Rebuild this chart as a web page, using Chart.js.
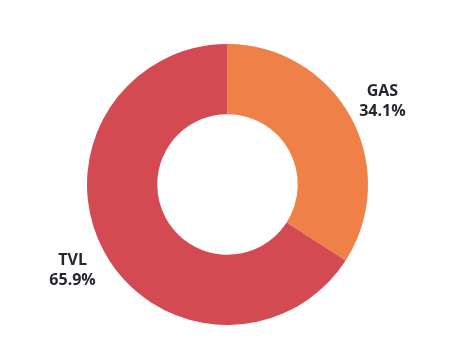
<!DOCTYPE html>
<html>
<head>
<meta charset="utf-8">
<script src="https://cdn.jsdelivr.net/npm/chart.js@4"></script>
<style>
  html, body { margin: 0; padding: 0; background: #fff; }
  #wrap { width: 472px; height: 351px; }
</style>
</head>
<body>
<div id="wrap"><canvas id="myChart" width="472" height="351"></canvas></div>
<script>
// データ
const labels = ['GAS', 'TVL'];
const values = [34.1, 65.9];
const colors = ['#EF8148', '#D34A52'];

// ラベルを外側に描く
const outsideLabels = {
    id: 'outsideLabels',
    afterDatasetsDraw(chart) {
        const ctx = chart.ctx;
        const meta = chart.getDatasetMeta(0);
        ctx.save();
        ctx.fillStyle = '#262633';
        ctx.font = 'bold 16px "Open Sans", sans-serif';
        ctx.textAlign = 'center';
        ctx.textBaseline = 'middle';
        meta.data.forEach((arc, i) => {
            const p = arc.getProps(['x', 'y', 'startAngle', 'endAngle', 'outerRadius']);
            const mid = (p.startAngle + p.endAngle) / 2;
            const r = p.outerRadius + 36;
            const x = p.x + Math.cos(mid) * r;
            const y = p.y + Math.sin(mid) * r;
            ctx.fillText(labels[i], x, y - 9);
            ctx.fillText(values[i].toFixed(1) + '%', x, y + 11);
        });
        ctx.restore();
    }
};

const ctx = document.getElementById('myChart').getContext('2d');
new Chart(ctx, {
    type: 'doughnut',
    data: {
        labels: labels,
        datasets: [{
            data: values,
            backgroundColor: colors,
            borderWidth: 0
        }]
    },
    options: {
        responsive: false,
        animation: false,
        cutout: '50%',
        layout: { padding: { top: 44, bottom: 26, left: 60, right: 77 } },
        plugins: {
            legend: { display: false },
            tooltip: { enabled: false }
        }
    },
    plugins: [outsideLabels]
});
</script>
</body>
</html>
